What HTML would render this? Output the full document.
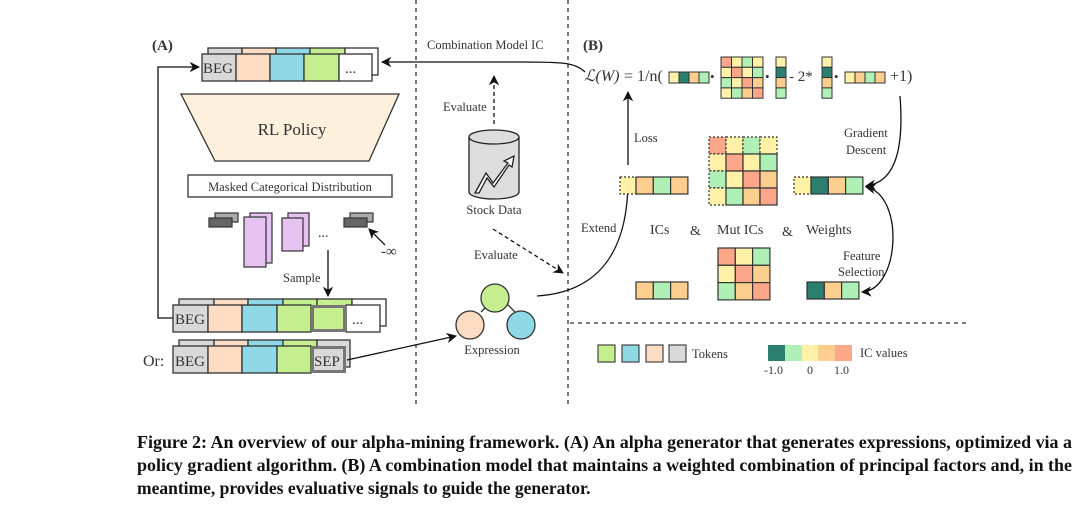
<!DOCTYPE html>
<html><head><meta charset="utf-8"><style>
html,body{margin:0;padding:0;background:#fff}
svg{display:block}
text{font-family:"Liberation Serif",serif;fill:#333}
</style></head><body>
<svg width="1080" height="512" viewBox="0 0 1080 512" xmlns="http://www.w3.org/2000/svg">
<defs>
<marker id="ah" viewBox="0 0 10 10" refX="9" refY="5" markerWidth="8" markerHeight="8" orient="auto-start-reverse"><path d="M0,0 L10,5 L0,10 L3,5 z" fill="#111"/></marker>
</defs>
<g stroke="#333" stroke-width="1.3" stroke-dasharray="4,4" fill="none">
<line x1="416" y1="0" x2="416" y2="405"/>
<line x1="568" y1="0" x2="568" y2="405"/>
<line x1="570" y1="323" x2="966" y2="323"/>
</g>
<text x="152" y="50" font-size="15" font-weight="bold" fill="#111">(A)</text>
<text x="583" y="50" font-size="15" font-weight="bold" fill="#111">(B)</text>

<g stroke="#333" stroke-width="1.3">
<rect x="208" y="48" width="34" height="27" fill="#d9d9d9"/><rect x="242" y="48" width="34" height="27" fill="#fddcc4"/><rect x="276" y="48" width="34" height="27" fill="#8fd8e6"/><rect x="310" y="48" width="35" height="27" fill="#c5ef8f"/><rect x="345" y="48" width="33" height="27" fill="#fff"/>
<rect x="202" y="54" width="34" height="27" fill="#d9d9d9"/><rect x="236" y="54" width="34" height="27" fill="#fddcc4"/><rect x="270" y="54" width="34" height="27" fill="#8fd8e6"/><rect x="304" y="54" width="35" height="27" fill="#c5ef8f"/><rect x="339" y="54" width="33" height="27" fill="#fff"/>
</g>
<text x="203" y="73" font-size="15">BEG</text><text x="345" y="73" font-size="15">...</text>

<polygon points="181,94 399,94 369,161 215,161" fill="#fdf0dc" stroke="#333" stroke-width="1.3"/>
<text x="292" y="135" font-size="17" text-anchor="middle">RL Policy</text>
<rect x="188" y="175" width="204" height="22" fill="#fff" stroke="#333" stroke-width="1.3"/>
<text x="290" y="191" font-size="12.5" text-anchor="middle">Masked Categorical Distribution</text>

<g stroke="#333" stroke-width="1.2">
<rect x="215" y="213" width="23" height="9" fill="#aaa"/><rect x="209" y="218" width="23" height="9" fill="#666"/>
<rect x="250" y="213" width="22" height="50" fill="#e6c2f0"/><rect x="244" y="217" width="22" height="50" fill="#e6c2f0"/>
<rect x="288" y="213" width="21" height="33" fill="#e6c2f0"/><rect x="282" y="218" width="21" height="33" fill="#e6c2f0"/>
<rect x="350" y="213" width="23" height="9" fill="#aaa"/><rect x="344" y="218" width="23" height="9" fill="#666"/>
</g>
<text x="318" y="237" font-size="14">...</text>
<line x1="385" y1="245" x2="369" y2="229" stroke="#111" stroke-width="1.3" marker-end="url(#ah)"/>
<text x="381" y="256" font-size="15">-∞</text>
<line x1="328" y1="250" x2="328" y2="296" stroke="#111" stroke-width="1.3" marker-end="url(#ah)"/>
<text x="283" y="282" font-size="12.5">Sample</text>

<g stroke="#333" stroke-width="1.3">
<rect x="179" y="299" width="35" height="27" fill="#d9d9d9"/><rect x="214" y="299" width="34" height="27" fill="#fddcc4"/><rect x="248" y="299" width="35" height="27" fill="#8fd8e6"/><rect x="283" y="299" width="34" height="27" fill="#c5ef8f"/><rect x="317" y="299" width="35" height="27" fill="#c5ef8f"/><rect x="352" y="299" width="34" height="27" fill="#fff"/>
<rect x="173" y="305" width="35" height="27" fill="#d9d9d9"/><rect x="208" y="305" width="34" height="27" fill="#fddcc4"/><rect x="242" y="305" width="35" height="27" fill="#8fd8e6"/><rect x="277" y="305" width="34" height="27" fill="#c5ef8f"/><rect x="346" y="305" width="34" height="27" fill="#fff"/>
<rect x="312.5" y="306.5" width="32" height="24" fill="#c5ef8f" stroke="#777" stroke-width="3"/>
</g>
<text x="175" y="324" font-size="15">BEG</text><text x="352" y="324" font-size="15">...</text>

<g stroke="#333" stroke-width="1.3">
<rect x="179" y="340" width="35" height="27" fill="#d9d9d9"/><rect x="214" y="340" width="34" height="27" fill="#fddcc4"/><rect x="248" y="340" width="35" height="27" fill="#8fd8e6"/><rect x="283" y="340" width="34" height="27" fill="#c5ef8f"/><rect x="317" y="340" width="33" height="27" fill="#d9d9d9"/>
<rect x="173" y="346" width="35" height="27" fill="#d9d9d9"/><rect x="208" y="346" width="34" height="27" fill="#fddcc4"/><rect x="242" y="346" width="35" height="27" fill="#8fd8e6"/><rect x="277" y="346" width="34" height="27" fill="#c5ef8f"/>
<rect x="312.5" y="347.5" width="32" height="24" fill="#d9d9d9" stroke="#777" stroke-width="3"/>
</g>
<text x="175" y="366" font-size="15">BEG</text><text x="314" y="366" font-size="15">SEP</text>
<text x="143" y="366" font-size="16">Or:</text>

<polyline points="173,318 158,318 158,67 199,67" fill="none" stroke="#111" stroke-width="1.3" marker-end="url(#ah)"/>
<path d="M585,72 C575,62 560,62 520,62 L382,62" fill="none" stroke="#111" stroke-width="1.3" marker-end="url(#ah)"/>
<line x1="347" y1="360" x2="456" y2="336" stroke="#111" stroke-width="1.3" marker-end="url(#ah)"/>

<text x="427" y="49" font-size="12.5">Combination Model  IC</text>
<line x1="494" y1="124" x2="494" y2="76" stroke="#111" stroke-width="1.3" stroke-dasharray="4,3" marker-end="url(#ah)"/>
<text x="443" y="111" font-size="12.5">Evaluate</text>
<g stroke="#222" stroke-width="1.3">
<path d="M469,137 L469,192 A25,7 0 0 0 519,192 L519,137" fill="#ddd"/>
<ellipse cx="494" cy="137" rx="25" ry="7" fill="#ddd"/>
<path d="M475,193 L486,173 L493,183 L508,163 L504,161 L514,156 L512,167 L509,165 L494,187 L487,178 L479,193 Z" fill="#fff"/>
</g>
<text x="494" y="214" font-size="12.5" text-anchor="middle">Stock Data</text>
<line x1="493" y1="229" x2="563" y2="273" stroke="#111" stroke-width="1.3" stroke-dasharray="4,3" marker-end="url(#ah)"/>
<text x="474" y="259" font-size="12.5">Evaluate</text>
<g stroke="#333" stroke-width="1.3">
<line x1="481" y1="312" x2="488" y2="305"/><line x1="508" y1="305" x2="515" y2="312"/>
<circle cx="495" cy="298" r="14" fill="#c5ef8f"/><circle cx="470" cy="325" r="14" fill="#fddcc4"/><circle cx="521" cy="325" r="14" fill="#8fd8e6"/>
</g>
<text x="492" y="354" font-size="12.5" text-anchor="middle">Expression</text>
<path d="M537,296 C600,292 628,250 628,180" fill="none" stroke="#111" stroke-width="1.3" marker-end="url(#ah)"/>
<text x="581" y="232" font-size="12.5">Extend</text>

<text x="584" y="81" font-size="16" font-style="italic" fill="#222">ℒ(W)</text><text x="624" y="81" font-size="16" fill="#222">= 1/n(</text>
<g stroke="#333" stroke-width="1">
<rect x="669" y="72" width="10" height="11" fill="#fff2a8"/><rect x="679" y="72" width="10" height="11" fill="#2a7f6f"/><rect x="689" y="72" width="10" height="11" fill="#fdcf8f"/><rect x="699" y="72" width="10" height="11" fill="#aef0b5"/>
<rect x="721" y="57" width="10.5" height="10.3" fill="#fca68a"/><rect x="731.5" y="57" width="10.5" height="10.3" fill="#fff2a8"/><rect x="742" y="57" width="10.5" height="10.3" fill="#aef0b5"/><rect x="752.5" y="57" width="10.5" height="10.3" fill="#fff2a8"/>
<rect x="721" y="67.3" width="10.5" height="10.3" fill="#fff2a8"/><rect x="731.5" y="67.3" width="10.5" height="10.3" fill="#fca68a"/><rect x="742" y="67.3" width="10.5" height="10.3" fill="#fff2a8"/><rect x="752.5" y="67.3" width="10.5" height="10.3" fill="#aef0b5"/>
<rect x="721" y="77.6" width="10.5" height="10.3" fill="#aef0b5"/><rect x="731.5" y="77.6" width="10.5" height="10.3" fill="#fff2a8"/><rect x="742" y="77.6" width="10.5" height="10.3" fill="#fca68a"/><rect x="752.5" y="77.6" width="10.5" height="10.3" fill="#fdcf8f"/>
<rect x="721" y="87.9" width="10.5" height="10.3" fill="#fff2a8"/><rect x="731.5" y="87.9" width="10.5" height="10.3" fill="#aef0b5"/><rect x="742" y="87.9" width="10.5" height="10.3" fill="#fdcf8f"/><rect x="752.5" y="87.9" width="10.5" height="10.3" fill="#fca68a"/>
<rect x="776" y="57" width="10" height="10.3" fill="#fff2a8"/><rect x="776" y="67.3" width="10" height="10.3" fill="#2a7f6f"/><rect x="776" y="77.6" width="10" height="10.3" fill="#fdcf8f"/><rect x="776" y="87.9" width="10" height="10.3" fill="#aef0b5"/>
<rect x="822" y="57" width="10" height="10.3" fill="#fff2a8"/><rect x="822" y="67.3" width="10" height="10.3" fill="#2a7f6f"/><rect x="822" y="77.6" width="10" height="10.3" fill="#fdcf8f"/><rect x="822" y="87.9" width="10" height="10.3" fill="#aef0b5"/>
<rect x="845" y="72" width="10" height="11" fill="#fff2a8"/><rect x="855" y="72" width="10" height="11" fill="#fdcf8f"/><rect x="865" y="72" width="10" height="11" fill="#aef0b5"/><rect x="875" y="72" width="10" height="11" fill="#fdcf8f"/>
</g>
<text x="710" y="81" font-size="13">•</text><text x="765" y="81" font-size="13">•</text><text x="834" y="81" font-size="13">•</text>
<text x="789" y="81" font-size="15" fill="#222">- 2*</text>
<text x="890" y="81" font-size="16" fill="#222">+1)</text>

<line x1="628" y1="165" x2="628" y2="92" stroke="#111" stroke-width="1.3" marker-end="url(#ah)"/>
<text x="634" y="142" font-size="12.5">Loss</text>

<g stroke="#333" stroke-width="1.2">
<rect x="620" y="177" width="16" height="17" fill="#fff2a8" stroke-dasharray="2,2"/>
<rect x="636" y="177" width="17.3" height="17" fill="#fdcf8f"/><rect x="653.3" y="177" width="17.3" height="17" fill="#aef0b5"/><rect x="670.6" y="177" width="17.3" height="17" fill="#fdcf8f"/>
<g stroke-dasharray="2,2">
<rect x="709" y="137" width="17" height="17" fill="#fca68a"/><rect x="726" y="137" width="17" height="17" fill="#fff2a8"/><rect x="743" y="137" width="17" height="17" fill="#aef0b5"/><rect x="760" y="137" width="17" height="17" fill="#fff2a8"/>
<rect x="709" y="154" width="17" height="17" fill="#fff2a8"/><rect x="709" y="171" width="17" height="17" fill="#aef0b5"/><rect x="709" y="188" width="17" height="17" fill="#fff2a8"/>
</g>
<rect x="726" y="154" width="17" height="17" fill="#fca68a"/><rect x="743" y="154" width="17" height="17" fill="#fff2a8"/><rect x="760" y="154" width="17" height="17" fill="#aef0b5"/>
<rect x="726" y="171" width="17" height="17" fill="#fff2a8"/><rect x="743" y="171" width="17" height="17" fill="#fca68a"/><rect x="760" y="171" width="17" height="17" fill="#fdcf8f"/>
<rect x="726" y="188" width="17" height="17" fill="#aef0b5"/><rect x="743" y="188" width="17" height="17" fill="#fdcf8f"/><rect x="760" y="188" width="17" height="17" fill="#fca68a"/>
<rect x="794" y="177" width="17" height="17" fill="#fff2a8" stroke-dasharray="2,2"/>
<rect x="811" y="177" width="17.3" height="17" fill="#2a7f6f"/><rect x="828.3" y="177" width="17.3" height="17" fill="#fdcf8f"/><rect x="845.6" y="177" width="17.3" height="17" fill="#aef0b5"/>
<rect x="636" y="282" width="17.3" height="17" fill="#fdcf8f"/><rect x="653.3" y="282" width="17.3" height="17" fill="#aef0b5"/><rect x="670.6" y="282" width="17.3" height="17" fill="#fdcf8f"/>
<rect x="718" y="248" width="17.3" height="17.3" fill="#fca68a"/><rect x="735.3" y="248" width="17.3" height="17.3" fill="#fff2a8"/><rect x="752.6" y="248" width="17.3" height="17.3" fill="#aef0b5"/>
<rect x="718" y="265.3" width="17.3" height="17.3" fill="#fff2a8"/><rect x="735.3" y="265.3" width="17.3" height="17.3" fill="#fca68a"/><rect x="752.6" y="265.3" width="17.3" height="17.3" fill="#fdcf8f"/>
<rect x="718" y="282.6" width="17.3" height="17.3" fill="#aef0b5"/><rect x="735.3" y="282.6" width="17.3" height="17.3" fill="#fdcf8f"/><rect x="752.6" y="282.6" width="17.3" height="17.3" fill="#fca68a"/>
<rect x="807" y="282" width="17.3" height="17" fill="#2a7f6f"/><rect x="824.3" y="282" width="17.3" height="17" fill="#fdcf8f"/><rect x="841.6" y="282" width="17.3" height="17" fill="#aef0b5"/>
</g>
<g font-size="14">
<text x="650" y="234">ICs</text><text x="690" y="235">&amp;</text><text x="717" y="234">Mut ICs</text><text x="782" y="236">&amp;</text><text x="806" y="234">Weights</text>
</g>
<path d="M900,96 C905,160 890,183 866,186" fill="none" stroke="#111" stroke-width="1.3" marker-end="url(#ah)"/>
<text x="844" y="137" font-size="12.5">Gradient</text><text x="846" y="154" font-size="12.5">Descent</text>
<path d="M866,187 C905,195 900,290 862,292" fill="none" stroke="#111" stroke-width="1.3" marker-start="url(#ah)" marker-end="url(#ah)"/>
<text x="843" y="260" font-size="12.5">Feature</text><text x="838" y="276" font-size="12.5">Selection</text>

<g stroke="#444" stroke-width="1.2">
<rect x="598" y="345" width="17" height="17" fill="#c5ef8f"/><rect x="622" y="345" width="17" height="17" fill="#8fd8e6"/><rect x="646" y="345" width="17" height="17" fill="#fddcc4"/><rect x="669" y="345" width="17" height="17" fill="#d9d9d9"/>
</g>
<text x="692" y="358" font-size="12.5">Tokens</text>
<rect x="768" y="345" width="17" height="16" fill="#2a7f6f"/><rect x="785" y="345" width="17" height="16" fill="#aef0b5"/><rect x="802" y="345" width="16" height="16" fill="#fff2a8"/><rect x="818" y="345" width="17" height="16" fill="#fdcf8f"/><rect x="835" y="345" width="17" height="16" fill="#fca68a"/>
<text x="860" y="357" font-size="12.5">IC values</text>
<text x="764" y="374" font-size="12">-1.0</text><text x="807" y="374" font-size="12">0</text><text x="834" y="374" font-size="12">1.0</text>

<g font-size="17.5" font-weight="bold" style="fill:#111">
<text x="137" y="448" textLength="935" lengthAdjust="spacingAndGlyphs" style="fill:#111">Figure 2: An overview of our alpha-mining framework. (A) An alpha generator that generates expressions, optimized via a</text>
<text x="137" y="471" textLength="935" lengthAdjust="spacingAndGlyphs" style="fill:#111">policy gradient algorithm. (B) A combination model that maintains a weighted combination of principal factors and, in the</text>
<text x="137" y="494" style="fill:#111">meantime, provides evaluative signals to guide the generator.</text>
</g>
</svg>
</body></html>
